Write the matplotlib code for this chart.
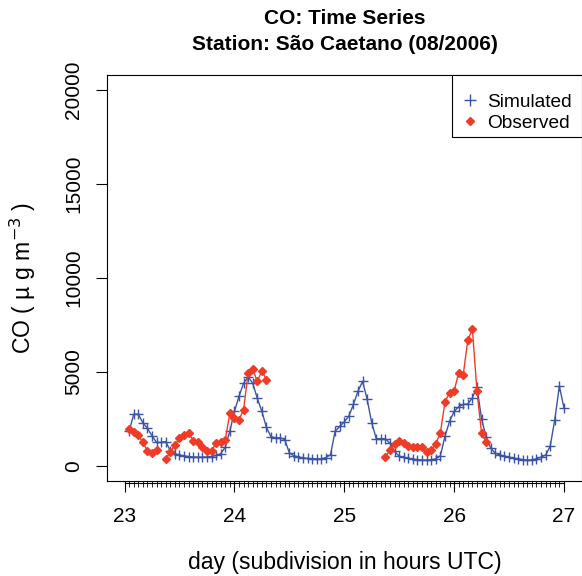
import numpy as np
import matplotlib
matplotlib.use('Agg')
import matplotlib.pyplot as plt
import matplotlib.transforms as mtransforms
from matplotlib.lines import Line2D
from matplotlib.patches import Rectangle

plt.rcParams['font.family'] = ['Liberation Sans', 'DejaVu Sans']

nan = np.nan

# hourly values, 23/08 01 UTC ... 27/08 00 UTC
hours = np.arange(1, 97)

sim_co = [1850, 2750, 2750, 2300, 2000, 1600, 1250, 1250, 1300, 800,
          650, 580, 540, 500, 480, 470, 470, 480, 500, 560,
          650, 1000, 1850, 2900, 3700, 4400, 4750, 4400, 3600, 2900,
          2050, 1550, 1500, 1500, 1400, 700, 540, 480, 430, 400,
          380, 380, 380, 450, 600, 1850, 2100, 2350, 2650, 3270,
          3980, 4500, 3550, 2300, 1450, 1450, 1450, 1200, 770, 520,
          460, 400, 360, 340, 320, 320, 330, 380, 540, 1570,
          2370, 2900, 3150, 3270, 3300, 3620, 4200, 2500, 1550, 950,
          680, 590, 520, 470, 420, 380, 340, 320, 320, 380,
          470, 580, 1050, 2450, 4250, 3100]

obs_co = [1970, 1790, 1640, 1250, 800, 690, 830, nan, 370, 760,
          1110, 1500, 1650, 1740, 1350, 1290, 1020, 780, 820, 1200,
          1300, 1380, 2800, 2550, 2450, 3000, 4950, 5150, 4500, 5070,
          4580, nan, nan, nan, nan, nan, nan, nan, nan, nan,
          nan, nan, nan, nan, nan, nan, nan, nan, nan, nan,
          nan, nan, nan, nan, nan, nan, 480, 860, 1180, 1330,
          1210, 1070, 1020, 1000, 1000, 730, 830, 1180, 1760, 3390,
          3900, 3980, 4960, 4850, 6700, 7280, 3980, 1750, 1250, nan,
          nan, nan, nan, nan, nan, nan, nan, nan, nan, nan,
          nan, nan, nan, nan, nan, nan]

day = 23 + hours / 24.0

blue = '#3c54a5'
red = '#f03b27'

fig = plt.figure(figsize=(5.82, 5.76), dpi=100)
ax = fig.add_axes([107/582, 95/576, 474.5/582, 406/576])

ax.plot(day, sim_co, color=blue, lw=1, marker='+', ms=7.5, mew=1)
ax.plot(day, obs_co, color=red, lw=1, marker='D', ms=4.3, mec=red)

ax.set_xlim(22.84, 27.16)
ax.set_ylim(-800, 20800)
ax.set_xticks([23, 24, 25, 26, 27])
ax.set_xticks(np.arange(23, 27.001, 1/24.0), minor=True)
ax.set_yticks([0, 5000, 10000, 15000, 20000])

ax.tick_params(axis='x', which='major', length=8, width=0.8, pad=11, labelsize=15)
ax.tick_params(axis='x', which='minor', length=4, width=0.6)
ax.tick_params(axis='y', which='major', length=8, width=0.8, pad=9, labelsize=15)
for lab in ax.get_yticklabels():
    lab.set_rotation(90)
    lab.set_va('center')

for sp in ax.spines.values():
    sp.set_linewidth(0.8)

# axis line drawn just under the box, like R's axis()
trans = mtransforms.offset_copy(ax.get_xaxis_transform(), fig=fig, x=0, y=-2, units='dots')
ax.plot([23, 27], [0, 0], transform=trans, color='k', lw=0.8, clip_on=False)

fig.text(344.5/582, 1 - 19/576, 'CO: Time Series', ha='center', va='center',
         fontsize=15, fontweight='bold')
fig.text(344.5/582, 1 - 44/576, 'Station: São Caetano (08/2006)', ha='center', va='center',
         fontsize=15, fontweight='bold')
fig.text(344.5/582, 1 - 562/576, 'day (subdivision in hours UTC)', ha='center', va='center',
         fontsize=16.6)
fig.text(22.5/582, 1 - 278/576, 'CO ( µ g m$^{-3}$ )', ha='center', va='center',
         rotation=90, fontsize=16.6)

# legend box like R's legend(): frame drawn separately
ax.add_patch(Rectangle((0.727, 0.847), 0.273, 0.153, transform=ax.transAxes,
                       facecolor='white', edgecolor='black', lw=0.8,
                       clip_on=False, zorder=3))
handles = [Line2D([], [], ls='none', marker='+', color=blue, ms=9, mew=1),
           Line2D([], [], ls='none', marker='D', color=red, ms=4)]
leg = ax.legend(handles, ['Simulated', 'Observed'], loc='upper left',
                bbox_to_anchor=(0.745, 0.9544), borderaxespad=0, frameon=False,
                fontsize=13.8, handlelength=1.0, handletextpad=0.4,
                borderpad=0, labelspacing=0.2)
leg.set_zorder(4)

fig.savefig('out.png', dpi=100)
